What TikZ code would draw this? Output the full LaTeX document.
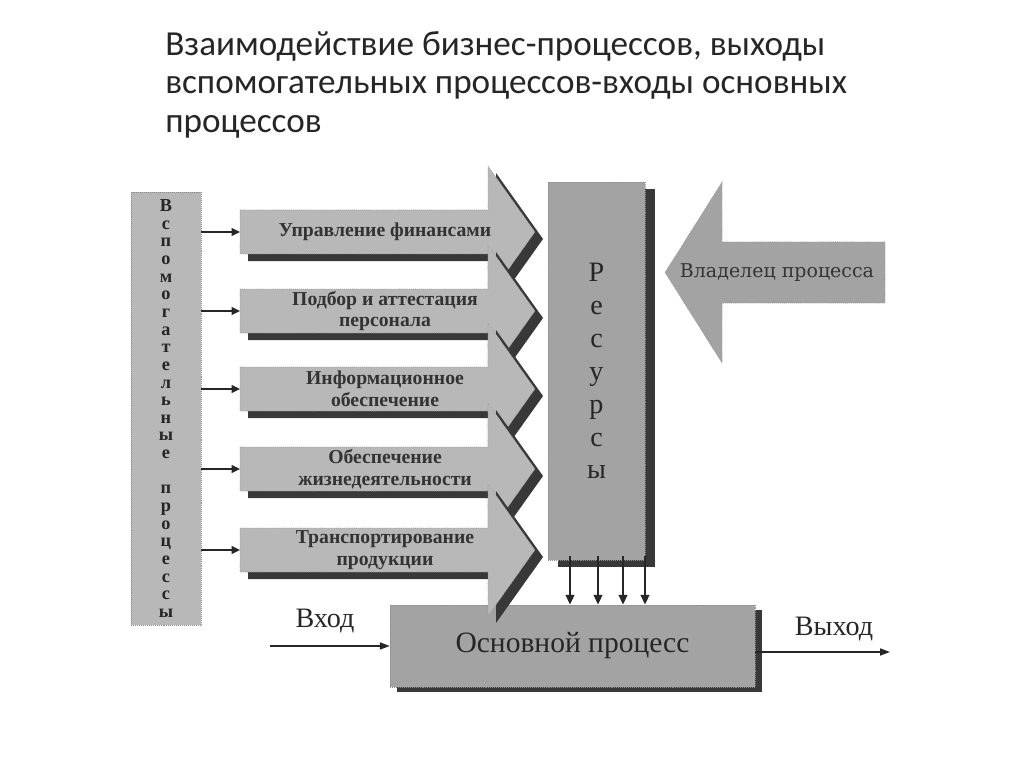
\documentclass[tikz,border=0pt]{standalone}
\usepackage{fontspec}
\setmainfont{Liberation Serif}
\newfontfamily\titelschrift{Carlito}
\newfontfamily\pfeilschrift{DejaVu Serif}
\usetikzlibrary{arrows.meta,calc,shadows}
\definecolor{pfeilgrau}{gray}{0.72}
\definecolor{kastengrau}{gray}{0.64}
\definecolor{schattengrau}{gray}{0.22}
\def \px {0.025cm}
\tikzset{
  flaeche/.style={fill=pfeilgrau,draw=black!45,densely dotted,line width=.4pt},
  kasten/.style={fill=kastengrau,draw=black!45,densely dotted,line width=.4pt,inner sep=0pt,text=black!85},
  schatten/.style={fill=schattengrau},
  zuleitung/.style={-{Triangle[length=6pt,width=5.5pt]},line width=1.4pt,color=black!85},
  fluss/.style={-{Triangle[length=7pt,width=5pt]},line width=1pt,color=black!85},
  zufuhr/.style={-{Triangle[length=7pt,width=6pt]},line width=1.8pt,color=black!85},
  beschriftung/.style={font=\bfseries\fontsize{14}{15.5}\selectfont,align=center,inner sep=0pt,text=black!80},
}
% Pfeil: #1 y-Mitte, #2 Name, #3 Text
\newcommand{\prozesspfeil}[3]{
  \path[schatten,shift={(8,7)}] (240,#1-22) -- (488,#1-22) -- (488,#1-66) -- (535,#1)
    -- (488,#1+66) -- (488,#1+22) -- (240,#1+22) -- cycle;
  \path[flaeche] (240,#1-22) -- (488,#1-22) -- (488,#1-66) -- (535,#1)
    -- (488,#1+66) -- (488,#1+22) -- (240,#1+22) -- cycle;
  \coordinate (#2) at (240,#1);
  \node[beschriftung] (#2-text) at (385,#1) {#3};
}

\begin{document}
\begin{tikzpicture}[x=\px,y=-\px]
  \useasboundingbox[fill=white] (0,0) rectangle (1024,767);
  \node[anchor=north west,inner sep=0pt,align=left,text=black!85,
    font=\titelschrift\fontsize{25}{27.5}\selectfont]
  (titel) at (165,31)
  {Взаимодействие бизнес-процессов, выходы\\вспомогательных процессов-входы основных\\процессов};

  % linke Spalte
  \node[kasten,fill=pfeilgrau,minimum width=70*\px,minimum height=433*\px,
    font=\bfseries\fontsize{13}{12.55}\selectfont,align=center]
  (hilfs) at (166,408.5)
  {В\\с\\п\\о\\м\\о\\г\\а\\т\\е\\л\\ь\\н\\ы\\е\\~\\п\\р\\о\\ц\\е\\с\\с\\ы};

  % Ressourcen und Hauptprozess
  \node[kasten,minimum width=97*\px,minimum height=378*\px,
    drop shadow={shadow xshift=10*\px,shadow yshift=-7*\px,fill=schattengrau,opacity=1},
    font=\fontsize{20}{23.4}\selectfont,align=center]
  (ressourcen) at (596.5,371) {Р\\е\\с\\у\\р\\с\\ы};
  \node[kasten,minimum width=365*\px,minimum height=82*\px,
    drop shadow={shadow xshift=7*\px,shadow yshift=-5*\px,fill=schattengrau,opacity=1},
    font=\fontsize{21}{24}\selectfont]
  (haupt) at (572.5,646) {Основной процесс};

  % Pfeile
  \prozesspfeil{232}{finanzen}{Управление финансами}
  \prozesspfeil{311}{personal}{Подбор и аттестация\\персонала}
  \prozesspfeil{389}{info}{Информационное\\обеспечение}
  \prozesspfeil{469}{leben}{Обеспечение\\жизнедеятельности}
  \prozesspfeil{550}{transport}{Транспортирование\\продукции}

  \draw[zuleitung] (hilfs.east |- finanzen) -- (finanzen);
  \draw[zuleitung] (hilfs.east |- personal) -- (personal);
  \draw[zuleitung] (hilfs.east |- info) -- (info);
  \draw[zuleitung] (hilfs.east |- leben) -- (leben);
  \draw[zuleitung] (hilfs.east |- transport) -- (transport);

  % Eigner
  \path[flaeche,fill=kastengrau] (885,242) -- (722,242) -- (722,182) -- (665,272.5)
    -- (722,363) -- (722,303) -- (885,303) -- cycle;
  \node[beschriftung,font=\pfeilschrift\fontsize{13.5}{16}\selectfont]
  (eigner) at (777,273) {Владелец процесса};

  \foreach \d in {-26.5,1.5,26.5,48.5}
    \draw[zufuhr] ($(ressourcen.south)+(\d,-4)$) -- ($(ressourcen.south |- haupt.north)+(\d,0)$);

  % Ein- und Ausgang
  \coordinate (eingang) at (270,646);
  \coordinate (ausgang) at (890,652);
  \draw[fluss] (eingang) -- (haupt.west |- eingang);
  \draw[fluss] (haupt.east |- ausgang) -- (ausgang);
  \node[font=\fontsize{20}{24}\selectfont,text=black!85] (eingangtext) at (325,621) {Вход};
  \node[font=\fontsize{20}{24}\selectfont,text=black!85] (ausgangtext) at (834,629) {Выход};
\end{tikzpicture}
\end{document}
